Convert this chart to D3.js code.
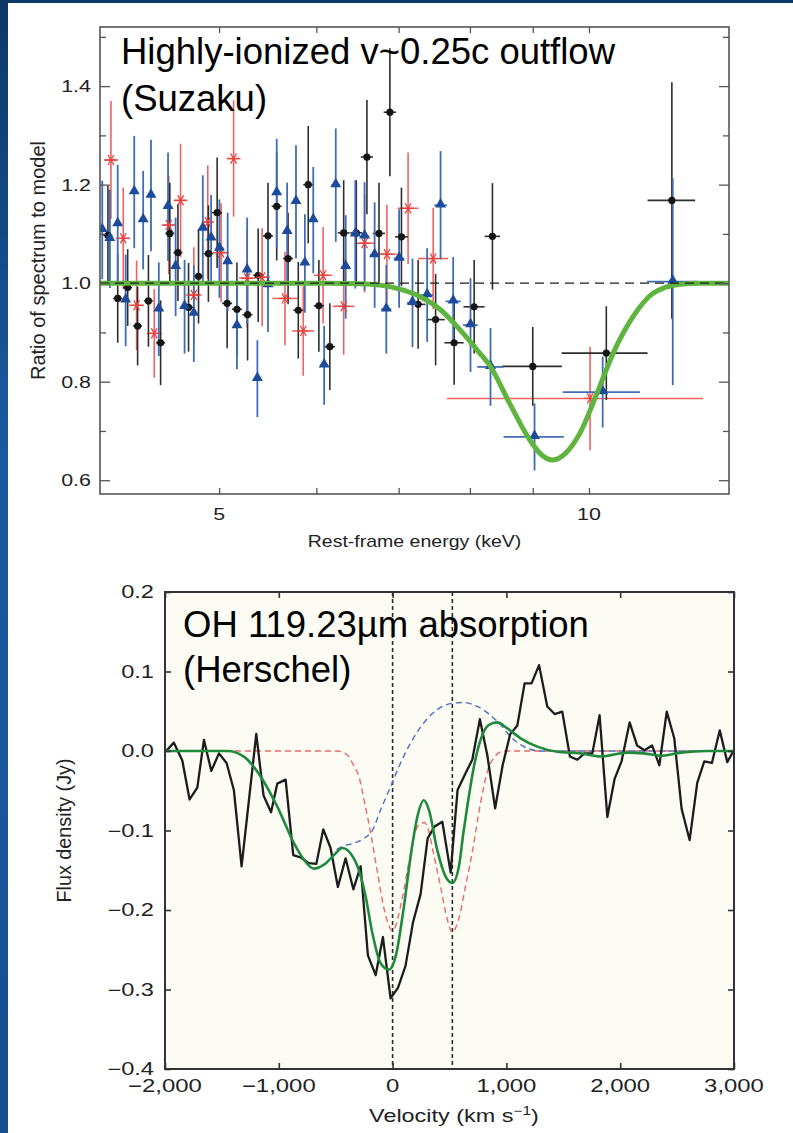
<!DOCTYPE html>
<html><head><meta charset="utf-8">
<script src="https://cdn.jsdelivr.net/npm/d3@7"></script>
<style>
body{margin:0;padding:0;overflow:hidden;background:#fff;}
svg{display:block;}
text{font-family:"Liberation Sans",Arial,Helvetica,sans-serif;}
</style></head><body>
<svg id="c" width="793" height="1133"></svg>
<script>
// ================= TOP PANEL (Suzaku) =================
const topTitle1 = "Highly-ionized v~0.25c outflow";
const topTitle2 = "(Suzaku)";
const energyTicks = [5,6,7,8,9,10];
const energyTickLabels = ["5","","","","","10"];
const ratioMajorTicks = [0.6,0.8,1.0,1.2,1.4];
const ratioMinorTicks = [0.7,0.9,1.1,1.3,1.5];
const ratioTickLabels = ["0.6","0.8","1.0","1.2","1.4"];
const unityRatio = 1.0;

// black circles
const blackE = [4.06,4.135,4.213,4.292,4.38,4.481,4.559,4.629,4.722,4.811,4.901,4.982,5.076,5.17,5.274,5.38,5.48,5.57,5.69,5.8,5.909,6.028,6.153,6.315,6.466,6.596,6.747,6.886,7.037,7.26,7.502,7.767,8.064,8.345,9.0,10.33,11.68];
const blackRatio = [1.097,0.969,0.991,0.913,0.964,0.879,1.101,1.062,0.951,1.014,1.06,1.143,0.959,0.947,0.936,1.016,1.096,1.156,1.05,0.945,1.2,0.954,0.871,1.102,1.102,1.256,1.101,1.347,1.094,0.957,0.926,0.879,0.952,1.095,0.831,0.858,1.168];
const blackErr = [0.1,0.09,0.078,0.08,0.093,0.086,0.103,0.098,0.09,0.096,0.098,0.112,0.091,0.095,0.093,0.095,0.108,0.11,0.093,0.098,0.119,0.093,0.088,0.107,0.107,0.116,0.103,0.13,0.1,0.09,0.093,0.085,0.095,0.108,0.08,0.095,0.24];
const blackHalfBin = [0.035,0.035,0.035,0.036,0.037,0.038,0.038,0.039,0.04,0.045,0.046,0.047,0.048,0.048,0.05,0.05,0.051,0.052,0.053,0.054,0.055,0.057,0.06,0.07,0.072,0.075,0.078,0.08,0.085,0.1,0.13,0.14,0.16,0.12,0.505,0.83,0.52];

// blue triangles
const blueE = [4.017,4.075,4.135,4.197,4.265,4.337,4.401,4.466,4.544,4.609,4.687,4.769,4.85,4.926,5.003,5.081,5.17,5.27,5.372,5.48,5.57,5.68,5.775,5.872,5.965,6.088,6.222,6.339,6.454,6.567,6.692,6.84,7.006,7.184,7.384,7.572,7.753,8.009,8.315,9.03,10.26,11.7];
const blueRatio = [1.108,1.09,1.12,0.965,1.185,1.128,1.178,0.947,1.155,1.033,0.952,0.938,1.111,1.091,1.07,1.043,0.913,1.026,0.806,0.996,1.183,1.104,1.165,1.04,1.128,0.833,1.199,1.033,1.099,1.095,1.057,0.947,1.05,0.96,0.976,1.158,0.963,0.915,0.83,0.688,0.779,1.003];
const blueErr = [0.1,0.1,0.12,0.093,0.114,0.1,0.113,0.095,0.11,0.1,0.095,0.098,0.108,0.088,0.1,0.1,0.088,0.107,0.078,0.095,0.11,0.1,0.115,0.1,0.108,0.08,0.115,0.105,0.11,0.11,0.107,0.09,0.1,0.09,0.095,0.11,0.09,0.095,0.079,0.068,0.072,0.21];
const blueHalfBin = [0.025,0.025,0.026,0.026,0.027,0.027,0.028,0.028,0.029,0.029,0.03,0.03,0.031,0.032,0.032,0.033,0.034,0.035,0.036,0.037,0.038,0.04,0.041,0.042,0.044,0.046,0.05,0.052,0.055,0.058,0.06,0.065,0.07,0.075,0.08,0.09,0.11,0.11,0.205,0.51,0.74,0.55];

// red stars
const redE = [4.083,4.178,4.284,4.428,4.55,4.652,4.769,4.895,5.019,5.138,5.27,5.42,5.657,5.854,6.076,6.315,6.567,6.848,7.125,7.468,10.02];
const redRatio = [1.25,1.091,0.955,0.898,1.118,1.168,0.976,1.124,1.062,1.253,1.01,1.012,0.969,0.903,1.016,0.953,1.081,1.059,1.152,1.05,0.766];
const redErr = [0.12,0.103,0.091,0.09,0.1,0.115,0.097,0.115,0.1,0.118,0.1,0.1,0.095,0.091,0.098,0.098,0.1,0.1,0.113,0.103,0.105];
const redHalfBin = [0.054,0.055,0.06,0.062,0.06,0.061,0.071,0.055,0.075,0.067,0.079,0.081,0.132,0.12,0.102,0.13,0.123,0.128,0.14,0.21,2.36];

// green absorption model
const modelE = [4.0,6.153,6.507,6.759,7.017,7.285,7.563,7.893,8.148,8.302,8.619,8.949,9.118,9.342,9.573,9.83,10.15,10.46,10.86,11.27,11.86,12.31,13.0];
const modelRatio = [1.0,1.0,0.999,0.996,0.988,0.973,0.947,0.899,0.858,0.833,0.756,0.682,0.655,0.641,0.655,0.695,0.776,0.857,0.932,0.979,0.998,1.0,1.0];

// ================= BOTTOM PANEL (Herschel) =================
const botTitle1 = "OH 119.23µm absorption";
const botTitle2 = "(Herschel)";
const velTicks = [-2000,-1000,0,1000,2000,3000];
const velTickLabels = ["\u22122,000","\u22121,000","0","1,000","2,000","3,000"];
const fluxTicks = [-0.4,-0.3,-0.2,-0.1,0.0,0.1,0.2];
const fluxTickLabels = ["\u22120.4","\u22120.3","\u22120.2","\u22120.1","0.0","0.1","0.2"];
const lineVelocities = [0, 525];

const obsVel = [-1990,-1922,-1848,-1784,-1716,-1658,-1593,-1526,-1459,-1395,-1327,-1198,-1134,-1068,-1013,-940,-873,-808,-735,-670,-609,-545,-481,-413,-345,-281,-217,-149,-85,-18,47,114,180,246,308,369,437,510,571,641,700,767,832,901,967,1033,1096,1160,1221,1287,1359,1424,1491,1558,1623,1687,1755,1819,1887,1951,2012,2083,2148,2214,2280,2344,2409,2475,2540,2610,2677,2739,2806,2875,2941,2995];
const obsFlux = [0,0.0105,-0.012,-0.061,-0.046,0.014,-0.025,-0.003,-0.015,-0.049,-0.145,0.0214,-0.056,-0.077,-0.041,-0.036,-0.131,-0.134,-0.141,-0.142,-0.0985,-0.122,-0.171,-0.135,-0.174,-0.145,-0.257,-0.282,-0.234,-0.311,-0.298,-0.27,-0.215,-0.18,-0.11,-0.095,-0.089,-0.153,-0.049,-0.028,-0.011,0.04,-0.005,-0.072,-0.018,0.021,0.032,0.085,0.085,0.108,0.056,0.0465,0.0495,-0.007,-0.011,-0.003,-0.003,0.045,-0.083,-0.035,-0.013,0.036,0.007,0.001,0.007,-0.018,0.0495,0.016,-0.073,-0.112,-0.04,-0.013,-0.015,0.026,-0.014,0.0];

const fitVel = [-2000,-1453,-1307,-1160,-1013,-867,-779,-692,-604,-516,-442,-369,-296,-237,-178,-105,-33,26,99,158,217,275,319,393,466,525,583,620,656,714,773,846,920,1008,1125,1272,1447,1652,1828,2062,2208,2370,2531,2765,3000];
const fitFlux = [0,0,-0.007,-0.032,-0.07,-0.116,-0.137,-0.148,-0.143,-0.131,-0.122,-0.129,-0.15,-0.183,-0.229,-0.267,-0.275,-0.259,-0.196,-0.133,-0.083,-0.062,-0.074,-0.125,-0.158,-0.166,-0.145,-0.105,-0.07,-0.02,0.014,0.033,0.036,0.0285,0.016,0.0055,-0.001,-0.003,-0.007,-0.002,-0.003,-0.006,-0.002,0,0];

const narrowVel = [-2000,-486,-398,-343,-296,-246,-193,-134,-76,0,85,143,193,237,281,316,351,422,481,525,583,641,703,773,835,905,975,3000];
const narrowFlux = [0,0,-0.005,-0.018,-0.032,-0.065,-0.103,-0.152,-0.198,-0.226,-0.185,-0.14,-0.105,-0.092,-0.09,-0.1,-0.123,-0.171,-0.212,-0.228,-0.21,-0.17,-0.125,-0.065,-0.025,-0.006,0,0];

const broadVel = [-492,-442,-340,-252,-178,-105,-18,70,158,246,334,437,525,627,744,861,949,1037,1154,1300,3000];
const broadFlux = [-0.124,-0.12,-0.116,-0.11,-0.1,-0.074,-0.045,-0.015,0.01,0.03,0.045,0.056,0.06,0.061,0.056,0.045,0.033,0.018,0.0055,0,0];

// ================= DRAWING =================
const W = 793, H = 1133;
const svg = d3.select("#c");
const defs = svg.append("defs");
const grad = defs.append("linearGradient").attr("id","bg").attr("x1",0).attr("y1",0).attr("x2",0).attr("y2",1);
grad.append("stop").attr("offset","0").attr("stop-color","#0c3866");
grad.append("stop").attr("offset","0.4").attr("stop-color","#1b5aa0");
grad.append("stop").attr("offset","1").attr("stop-color","#164f90");
svg.append("rect").attr("width",W).attr("height",H).attr("fill","url(#bg)");
svg.append("rect").attr("x",8).attr("y",3).attr("width",W-8).attr("height",H-3).attr("fill","#ffffff");

function stretchedText(g, x, y, str, size, sx, anchor, fill){
  return g.append("text")
    .attr("transform",`translate(${x},${y}) scale(${sx},1)`)
    .attr("text-anchor",anchor).attr("font-size",size).attr("fill",fill||"#222").text(str);
}

// ---------- top ----------
const tp = {left:100,right:729,top:27,bottom:494};
const xE = d3.scaleLog().domain([4,13]).range([tp.left,tp.right]);
const yR = d3.scaleLinear().domain([0.572,1.52]).range([tp.bottom,tp.top]);
defs.append("clipPath").attr("id","clipTop").append("rect")
  .attr("x",tp.left).attr("y",tp.top).attr("width",tp.right-tp.left).attr("height",tp.bottom-tp.top);
const gT = svg.append("g");
const plotT = gT.append("g").attr("clip-path","url(#clipTop)");

function errBars(g, E, R, err, hb, color, sw){
  const idx = d3.range(E.length);
  const gg = g.append("g").attr("stroke",color).attr("stroke-width",sw);
  gg.selectAll(null).data(idx).join("line")
    .attr("x1",i=>xE(E[i])).attr("x2",i=>xE(E[i]))
    .attr("y1",i=>yR(R[i]-err[i])).attr("y2",i=>yR(R[i]+err[i]));
  gg.selectAll(null).data(idx).join("line")
    .attr("x1",i=>xE(E[i]-hb[i])).attr("x2",i=>xE(E[i]+hb[i]))
    .attr("y1",i=>yR(R[i])).attr("y2",i=>yR(R[i]));
}
errBars(plotT, redE, redRatio, redErr, redHalfBin, "#ef6262", 1.6);
errBars(plotT, blackE, blackRatio, blackErr, blackHalfBin, "#2e2e2e", 1.6);
errBars(plotT, blueE, blueRatio, blueErr, blueHalfBin, "#3f6cb6", 1.8);

plotT.append("g").selectAll(null).data(d3.range(blackE.length)).join("circle")
  .attr("cx",i=>xE(blackE[i])).attr("cy",i=>yR(blackRatio[i])).attr("r",3.6).attr("fill","#151515");
const star = d3.symbol(d3.symbolAsterisk, 95);
plotT.append("g").selectAll(null).data(d3.range(redE.length)).join("path")
  .attr("d",star).attr("transform",i=>`translate(${xE(redE[i])},${yR(redRatio[i])}) rotate(90)`)
  .attr("fill","none").attr("stroke","#e8423f").attr("stroke-width",1.3);
const tri = d3.symbol(d3.symbolTriangle, 52);
plotT.append("g").selectAll(null).data(d3.range(blueE.length)).join("path")
  .attr("d",tri).attr("transform",i=>`translate(${xE(blueE[i])},${yR(blueRatio[i])-1})`)
  .attr("fill","#1d4b9b");

const modelLine = d3.line().x((d,i)=>xE(modelE[i])).y((d,i)=>yR(modelRatio[i])).curve(d3.curveMonotoneX);
plotT.append("path").datum(modelE).attr("d",modelLine).attr("fill","none")
  .attr("stroke","#5fb43f").attr("stroke-width",5).attr("stroke-linecap","round");
plotT.append("line").attr("x1",xE(4)).attr("x2",xE(13)).attr("y1",yR(unityRatio)).attr("y2",yR(unityRatio))
  .attr("stroke","#1e1e1e").attr("stroke-width",1.3).attr("stroke-dasharray","9,6");

// top axes
const topAxisColor = "#555";
function styleAxis(g){ g.select(".domain").remove(); g.attr("color",topAxisColor); g.selectAll("line").attr("stroke-width",1.3); }
gT.append("g").attr("transform",`translate(0,${tp.bottom})`).call(d3.axisBottom(xE).tickValues(energyTicks).tickSize(-6).tickFormat("")).call(styleAxis);
gT.append("g").attr("transform",`translate(0,${tp.top})`).call(d3.axisTop(xE).tickValues(energyTicks).tickSize(-6).tickFormat("")).call(styleAxis);
gT.append("g").attr("transform",`translate(${tp.left},0)`).call(d3.axisLeft(yR).tickValues(ratioMajorTicks).tickSize(-10).tickFormat("")).call(styleAxis);
gT.append("g").attr("transform",`translate(${tp.left},0)`).call(d3.axisLeft(yR).tickValues(ratioMinorTicks).tickSize(-6).tickFormat("")).call(styleAxis);
gT.append("g").attr("transform",`translate(${tp.right},0)`).call(d3.axisRight(yR).tickValues(ratioMajorTicks).tickSize(-10).tickFormat("")).call(styleAxis);
gT.append("g").attr("transform",`translate(${tp.right},0)`).call(d3.axisRight(yR).tickValues(ratioMinorTicks).tickSize(-6).tickFormat("")).call(styleAxis);
gT.append("rect").attr("x",tp.left).attr("y",tp.top).attr("width",tp.right-tp.left).attr("height",tp.bottom-tp.top)
  .attr("fill","none").attr("stroke",topAxisColor).attr("stroke-width",1.6);

ratioMajorTicks.forEach((v,i)=>stretchedText(gT, 91, yR(v)+6, ratioTickLabels[i], 16.5, 1.3, "end"));
energyTicks.forEach((e,i)=>{ if(energyTickLabels[i]) stretchedText(gT, xE(e), 520, energyTickLabels[i], 16.5, 1.3, "middle"); });
stretchedText(gT, (tp.left+tp.right)/2, 547, "Rest-frame energy (keV)", 16, 1.22, "middle");
gT.append("text").attr("transform",`translate(45,${(tp.top+tp.bottom)/2}) rotate(-90)`)
  .attr("text-anchor","middle").attr("font-size",20).attr("fill","#222").text("Ratio of spectrum to model");

svg.append("text").attr("x",121).attr("y",64).attr("font-size",36.5).attr("fill","#000").text(topTitle1);
svg.append("text").attr("x",121).attr("y",111).attr("font-size",36.5).attr("fill","#000").text(topTitle2);

// ---------- bottom ----------
const bp = {left:165,right:734,top:592,bottom:1069};
const xV = d3.scaleLinear().domain([-2000,3000]).range([bp.left,bp.right]);
const yF = d3.scaleLinear().domain([-0.4,0.2]).range([bp.bottom,bp.top]);
defs.append("clipPath").attr("id","clipBot").append("rect")
  .attr("x",bp.left).attr("y",bp.top).attr("width",bp.right-bp.left).attr("height",bp.bottom-bp.top);
const gB = svg.append("g");
gB.append("rect").attr("x",bp.left).attr("y",bp.top).attr("width",bp.right-bp.left).attr("height",bp.bottom-bp.top).attr("fill","#fcfcf4");
const plotB = gB.append("g").attr("clip-path","url(#clipBot)");

plotB.append("g").selectAll(null).data(lineVelocities).join("line")
  .attr("x1",d=>xV(d)).attr("x2",d=>xV(d)).attr("y1",bp.top).attr("y2",bp.bottom)
  .attr("stroke","#2a2a2a").attr("stroke-width",1.6).attr("stroke-dasharray","4,3");

const lnB = (vx,vy)=>d3.line().x((d,i)=>xV(vx[i])).y((d,i)=>yF(vy[i]));
plotB.append("path").datum(narrowVel).attr("d",lnB(narrowVel,narrowFlux).curve(d3.curveMonotoneX))
  .attr("fill","none").attr("stroke","#e86a6a").attr("stroke-width",1.4).attr("stroke-dasharray","6,4");
plotB.append("path").datum(broadVel).attr("d",lnB(broadVel,broadFlux).curve(d3.curveMonotoneX))
  .attr("fill","none").attr("stroke","#4a6fc0").attr("stroke-width",1.4).attr("stroke-dasharray","6,4");
plotB.append("path").datum(obsVel).attr("d",lnB(obsVel,obsFlux))
  .attr("fill","none").attr("stroke","#1c1c1c").attr("stroke-width",2.3).attr("stroke-linejoin","round");
plotB.append("path").datum(fitVel).attr("d",lnB(fitVel,fitFlux).curve(d3.curveMonotoneX))
  .attr("fill","none").attr("stroke","#1f8a3e").attr("stroke-width",2.6);

const botAxisColor = "#333";
function styleAxisB(g){ g.select(".domain").remove(); g.attr("color",botAxisColor); g.selectAll("line").attr("stroke-width",1.6); }
gB.append("g").attr("transform",`translate(0,${bp.bottom})`).call(d3.axisBottom(xV).tickValues(velTicks).tickSize(-6).tickFormat("")).call(styleAxisB);
gB.append("g").attr("transform",`translate(0,${bp.top})`).call(d3.axisTop(xV).tickValues(velTicks).tickSize(-6).tickFormat("")).call(styleAxisB);
gB.append("g").attr("transform",`translate(${bp.left},0)`).call(d3.axisLeft(yF).tickValues(fluxTicks).tickSize(-6).tickFormat("")).call(styleAxisB);
gB.append("g").attr("transform",`translate(${bp.right},0)`).call(d3.axisRight(yF).tickValues(fluxTicks).tickSize(-6).tickFormat("")).call(styleAxisB);
gB.append("rect").attr("x",bp.left).attr("y",bp.top).attr("width",bp.right-bp.left).attr("height",bp.bottom-bp.top)
  .attr("fill","none").attr("stroke",botAxisColor).attr("stroke-width",2);

fluxTicks.forEach((v,i)=>stretchedText(gB, 154, yF(v)+6.3, fluxTickLabels[i], 17.5, 1.35, "end"));
velTicks.forEach((v,i)=>stretchedText(gB, xV(v), 1092, velTickLabels[i], 18, 1.33, "middle"));
const vl = gB.append("text").attr("transform",`translate(454,1122) scale(1.3,1)`).attr("text-anchor","middle")
  .attr("font-size",18).attr("fill","#222");
vl.append("tspan").text("Velocity (km s");
vl.append("tspan").attr("font-size",12).attr("dy",-7).text("\u22121");
vl.append("tspan").attr("dy",7).text(")");
gB.append("text").attr("transform",`translate(71,${(bp.top+bp.bottom)/2}) rotate(-90)`)
  .attr("text-anchor","middle").attr("font-size",19.8).attr("fill","#222").text("Flux density (Jy)");

svg.append("text").attr("x",183).attr("y",636.5).attr("font-size",36.5).attr("fill","#000").text(botTitle1);
svg.append("text").attr("x",183).attr("y",681.5).attr("font-size",36.5).attr("fill","#000").text(botTitle2);
</script>
</body></html>
